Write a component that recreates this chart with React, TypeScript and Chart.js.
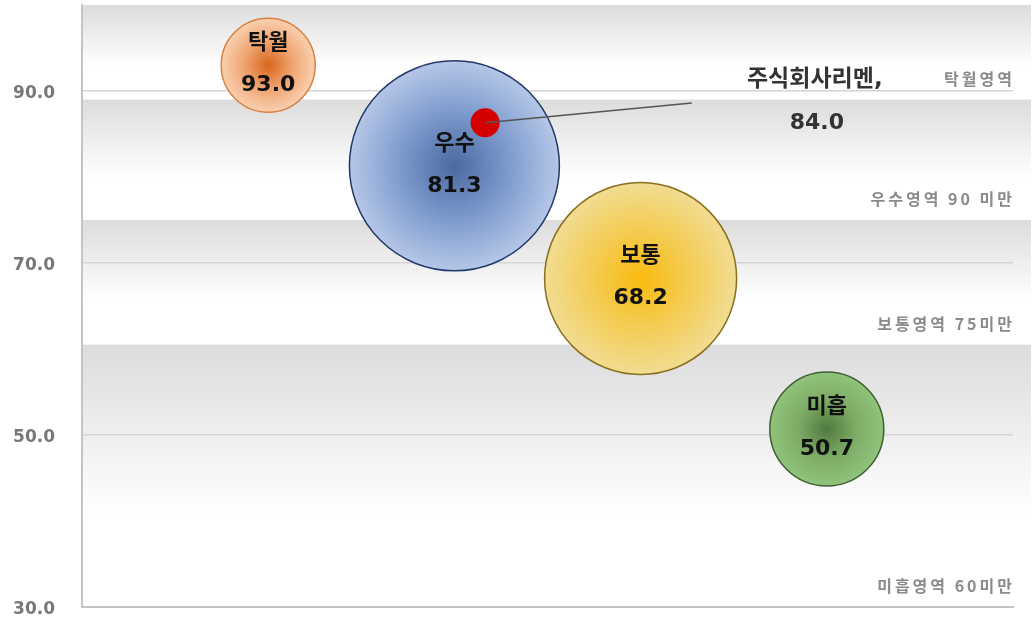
import React, { useEffect, useRef } from "react";
import { Chart, registerables } from "chart.js";

Chart.register(...registerables);

// ---- data ----
const gradeNames = ["탁월", "우수", "보통", "미흡"];
const gradeScores = [93.0, 81.3, 68.2, 50.7];
const gradeX = [20, 40, 60, 80];
const gradeSizes = [47, 105, 96, 57];

const companyName = "주식회사리멘,";
const companyScore = 84.0;
const companyPoint = { x: 43.3, y: 86.3 };
const calloutEnd = { x: 65.5, y: 88.6 };
const companyDotSize = 14.5;

const yTicks = [30, 50, 70, 90];
const bandEdges = [100, 89, 75, 60.5, 30];
const bandLabels = ["탁월영역", "우수영역 90 미만", "보통영역 75미만", "미흡영역 60미만"];

// ---- styles ----
const gradeInner = ["#d8651b", "#4a699f", "#f8bb0e", "#507a3c"];
const gradeMid = ["#efa36e", "#7c99cc", "#f4cc52", "#7dab66"];
const gradeOuter = ["#f9d0b0", "#b5c7e7", "#f1dc92", "#91c37c"];
const gradeBorder = ["#d9803f", "#22386a", "#8a6e1c", "#3d6030"];
const FONT = '"DejaVu Sans", "Noto Sans CJK KR", sans-serif';

export default function App() {
  const ref = useRef<HTMLCanvasElement | null>(null);

  useEffect(() => {
    if (!ref.current) return;

    const bandsPlugin = {
      id: "bands",
      beforeDraw(chart: any) {
        const { ctx, chartArea, scales } = chart;
        const y = scales.y;
        ctx.save();
        for (let i = 0; i < bandEdges.length - 1; i++) {
          const top = y.getPixelForValue(bandEdges[i]);
          const bottom = y.getPixelForValue(bandEdges[i + 1]);
          const g = ctx.createLinearGradient(0, top, 0, top + (bottom - top) * 0.65);
          g.addColorStop(0, "#dcdcdc");
          g.addColorStop(1, "#ffffff");
          ctx.fillStyle = g;
          ctx.fillRect(chartArea.left, top, chart.width - 1 - chartArea.left, bottom - top);
        }
        ctx.restore();
      },
      beforeDatasetsDraw(chart: any) {
        const { ctx, chartArea, scales } = chart;
        const y = scales.y;
        ctx.save();
        ctx.font = 'bold 16px "Noto Sans CJK KR", sans-serif';
        (ctx as any).letterSpacing = "3px";
        ctx.fillStyle = "#8a8a8a";
        ctx.textAlign = "right";
        ctx.textBaseline = "middle";
        for (let i = 0; i < bandLabels.length; i++) {
          const bottom = y.getPixelForValue(bandEdges[i + 1]);
          ctx.fillText(bandLabels[i], chartArea.right + 2, bottom - 21);
        }
        ctx.restore();
      },
      afterDatasetsDraw(chart: any) {
        const { ctx, scales } = chart;
        const meta = chart.getDatasetMeta(0);
        ctx.save();
        ctx.textAlign = "center";
        ctx.textBaseline = "middle";
        ctx.fillStyle = "#111111";
        ctx.font = `bold 22px ${FONT}`;
        meta.data.forEach((el: any, i: number) => {
          ctx.fillText(gradeNames[i], el.x, el.y - 22);
          ctx.fillText(gradeScores[i].toFixed(1), el.x, el.y + 20);
        });
        const ex = scales.x.getPixelForValue(calloutEnd.x);
        const ey = scales.y.getPixelForValue(calloutEnd.y);
        ctx.fillStyle = "#333333";
        ctx.font = `bold 23px ${FONT}`;
        ctx.fillText(companyName, ex + 123, ey - 23);
        ctx.font = `bold 22px ${FONT}`;
        ctx.fillText(companyScore.toFixed(1), ex + 125, ey + 20);
        ctx.restore();
      },
    };

    const chart = new Chart(ref.current, {
      type: "bubble",
      data: {
        datasets: [
          {
            type: "bubble",
            order: 2,
            data: gradeNames.map((_, i) => ({ x: gradeX[i], y: gradeScores[i], r: gradeSizes[i] })),
            backgroundColor: (c: any) => {
              const i = c.dataIndex;
              const chart = c.chart;
              if (c.type !== "data" || !chart.chartArea) return gradeOuter[i] || "#ccc";
              const px = chart.scales.x.getPixelForValue(gradeX[i]);
              const py = chart.scales.y.getPixelForValue(gradeScores[i]);
              const g = chart.ctx.createRadialGradient(px, py, 0, px, py, gradeSizes[i]);
              g.addColorStop(0, gradeInner[i]);
              g.addColorStop(0.5, gradeMid[i]);
              g.addColorStop(1, gradeOuter[i]);
              return g;
            },
            borderColor: gradeBorder,
            borderWidth: 1.5,
            clip: false as any,
          },
          {
            type: "bubble",
            order: 1,
            data: [{ x: companyPoint.x, y: companyPoint.y, r: companyDotSize }],
            backgroundColor: "#d40000",
            borderWidth: 0,
            clip: false as any,
          },
          {
            type: "line",
            order: 0,
            data: [companyPoint, calloutEnd],
            borderColor: "#555555",
            borderWidth: 1.5,
            pointRadius: 0,
            fill: false,
            clip: false as any,
          } as any,
        ],
      },
      options: {
        responsive: false,
        animation: false,
        events: [],
        layout: { autoPadding: false, padding: { top: 5, right: 19, bottom: 14, left: 0 } },
        plugins: { legend: { display: false }, tooltip: { enabled: false } },
        scales: {
          x: {
            type: "linear",
            min: 0,
            max: 100,
            grid: { display: false, drawTicks: false },
            ticks: { display: false },
            border: { display: true, color: "#c4c4c4", width: 2 },
            afterFit: (s: any) => {
              s.height = 0;
              s.paddingLeft = 0;
              s.paddingRight = 0;
            },
          },
          y: {
            type: "linear",
            min: 30,
            max: 100,
            afterBuildTicks: (s: any) => {
              s.ticks = yTicks.map((v) => ({ value: v }));
            },
            afterFit: (s: any) => {
              s.width = 82;
              s.paddingTop = 0;
              s.paddingBottom = 0;
            },
            grid: { color: "#d4d4d4", lineWidth: 1.5, drawTicks: false },
            border: { display: true, color: "#c4c4c4", width: 2 },
            ticks: {
              padding: 27,
              labelOffset: 3,
              color: "#777777",
              font: { family: '"DejaVu Sans"', size: 17, weight: "bold" },
              callback: (v: any) => Number(v).toFixed(1),
            },
          },
        },
      },
      plugins: [bandsPlugin],
    } as any);

    return () => chart.destroy();
  }, []);

  return (
    <div style={{ position: "absolute", left: 0, top: 0, width: 1032, height: 621, background: "#fff" }}>
      <canvas ref={ref} width={1032} height={621} style={{ display: "block" }} />
    </div>
  );
}
